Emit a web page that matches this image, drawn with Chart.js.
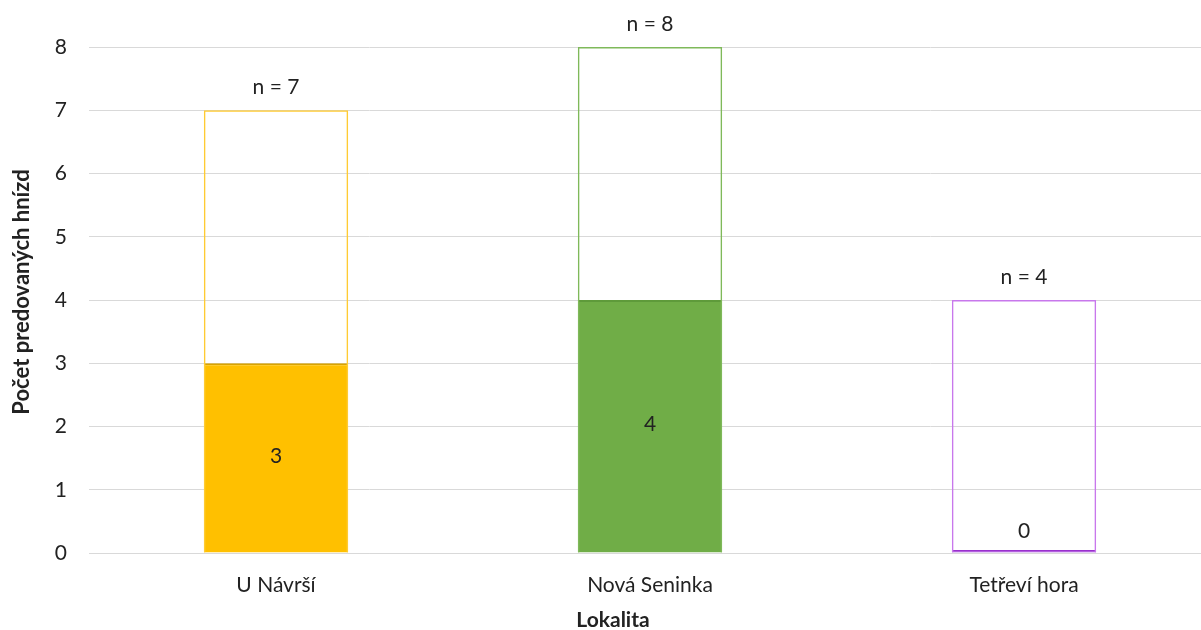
<!DOCTYPE html>
<html>
<head>
<meta charset="utf-8">
<script src="https://cdn.jsdelivr.net/npm/chart.js@4/dist/chart.umd.min.js"></script>
<style>
  html, body { margin: 0; padding: 0; background: #fff; overflow: hidden; }
  #wrap { width: 1216px; height: 630px; }
</style>
</head>
<body>
<div id="wrap"><canvas id="nests" width="1216" height="630"></canvas></div>
<script>
/* ========= DATA ========= */
const sites    = ["U Návrší", "Nová Seninka", "Tetřeví hora"];
const totals   = [7, 8, 4];     // n = ...
const predated = [3, 4, 0];     // predované hnízda
const yTicks   = [0, 1, 2, 3, 4, 5, 6, 7, 8];
const xTitle   = "Lokalita";
const yTitle   = "Počet predovaných hnízd";

const fillColors    = ["#FFC000", "#70AD47", "#A23CD6"];
const fillTopColors = ["#D9A300", "#5E9A3A", "#9A30CE"];
const outlineColors = ["#FFCB33", "#7FB95A", "#C878EC"];

const FONT = "Lato";
const TEXT = "#222222";

/* ========= LABELS PLUGIN ========= */
const barLabels = {
  id: "barLabels",
  afterDatasetsDraw(chart){
    const ctx = chart.ctx;
    ctx.save();
    ctx.font = `21px ${FONT}`;
    ctx.fillStyle = TEXT;
    ctx.textAlign = "center";
    ctx.textBaseline = "middle";

    // n = ... above outline bars (dataset 0)
    chart.getDatasetMeta(0).data.forEach((bar, i) => {
      ctx.fillText(`n = ${totals[i]}`, bar.x, bar.y - 23);
    });

    // value inside filled bars (dataset 1)
    chart.getDatasetMeta(1).data.forEach((bar, i) => {
      const y = predated[i] > 0 ? (bar.y + bar.base) / 2 - 2 : bar.base - 21;
      ctx.fillText(String(predated[i]), bar.x, y);
    });

    // axis titles (Excel puts them off the plot centre)
    ctx.font = `bold 21px ${FONT}`;
    ctx.fillText(xTitle, 613, 620);
    ctx.translate(22, 292);
    ctx.rotate(-Math.PI / 2);
    ctx.font = `bold 22px ${FONT}`;
    ctx.fillText(yTitle, 0, 0);
    ctx.restore();
  }
};

/* ========= CHART ========= */
const ctx = document.getElementById("nests").getContext("2d");
new Chart(ctx, {
  type: "bar",
  data: {
    labels: sites,
    datasets: [
      {
        label: "Celkem",
        data: totals,
        backgroundColor: "rgba(0,0,0,0)",
        borderColor: outlineColors,
        borderWidth: 1.5,
        grouped: false,
        categoryPercentage: 1,
        barPercentage: 0.386
      },
      {
        label: "Predováno",
        data: predated,
        backgroundColor: fillColors,
        borderColor: fillTopColors,
        borderWidth: {top: 2, left: 0, right: 0, bottom: 0},
        borderSkipped: false,
        minBarLength: 3,
        grouped: false,
        categoryPercentage: 1,
        barPercentage: 0.386
      }
    ]
  },
  options: {
    responsive: false,
    animation: false,
    devicePixelRatio: 1,
    layout: { padding: { top: 47, right: 5, bottom: 0, left: 0 } },
    plugins: {
      legend: { display: false },
      tooltip: { enabled: false }
    },
    scales: {
      x: {
        grid: { display: false, drawTicks: false },
        border: { display: true, color: "#D9D9D9", width: 1 },
        ticks: { color: TEXT, font: { family: FONT, size: 21 }, padding: 20 },
        afterFit(scale){ scale.height = 77; }
      },
      y: {
        min: 0,
        max: 8,
        afterBuildTicks(scale){ scale.ticks = yTicks.map(v => ({ value: v })); },
        grid: { color: "#D9D9D9", lineWidth: 1, drawTicks: false },
        border: { display: false },
        ticks: { color: TEXT, font: { family: FONT, size: 21 }, padding: 22 },
        afterFit(scale){ scale.width = 89; }
      }
    }
  },
  plugins: [barLabels]
});
</script>
</body>
</html>
